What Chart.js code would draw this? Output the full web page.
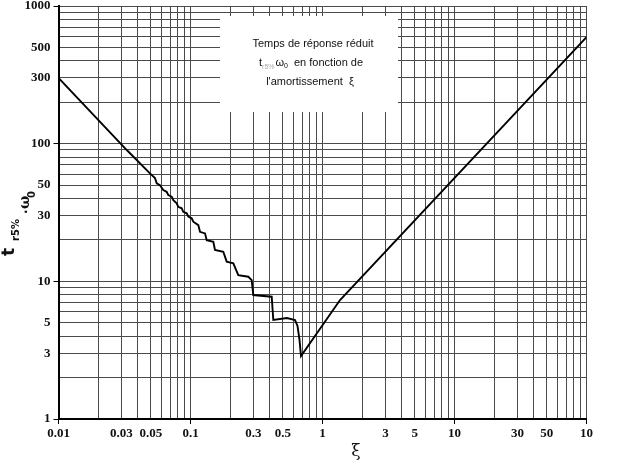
<!DOCTYPE html>
<html>
<head>
<meta charset="utf-8">
<script src="https://cdn.jsdelivr.net/npm/chart.js@4/dist/chart.umd.min.js"></script>
<style>
  html, body { margin: 0; padding: 0; background: #fff; }
</style>
</head>
<body>
<canvas id="chart" width="622" height="464"></canvas>
<script>
// damping ratio (xi) and reduced settling time t_r5% * w0
const xi = [0.01, 0.0329, 0.0493, 0.0538, 0.0555, 0.0587, 0.0622, 0.0660, 0.0679, 0.0720,
            0.0741, 0.0786, 0.0808, 0.0858, 0.0882, 0.0936, 0.0962, 0.1021, 0.1050, 0.1146,
            0.1180, 0.1288, 0.1327, 0.1489, 0.1533, 0.1772, 0.1880, 0.2110, 0.2302, 0.2741,
            0.2908, 0.2990, 0.4123, 0.4240, 0.5384, 0.6191, 0.6466, 0.6697, 0.6873, 1.358, 100];
const tw = [300, 89.9, 60.8, 56.3, 51.5, 50.0, 46.0, 44.7, 42.3, 41.2,
            38.9, 36.9, 34.8, 33.9, 32.0, 31.2, 29.5, 28.7, 27.1, 25.6,
            22.9, 22.3, 19.9, 19.4, 16.9, 16.4, 13.9, 13.5, 11.1, 10.8,
            10.2, 7.95, 7.73, 5.24, 5.41, 5.24, 4.74, 3.75, 2.87, 7.31, 594];

// labelled ticks
const xTickValues = [0.01, 0.03, 0.05, 0.1, 0.3, 0.5, 1, 3, 5, 10, 30, 50, 100];
const xTickText = ['0.01', '0.03', '0.05', '0.1', '0.3', '0.5', '1', '3', '5', '10', '30', '50', '10'];
const yTickValues = [1, 3, 5, 10, 30, 50, 100, 300, 500, 1000];
const yTickText = ['1', '3', '5', '10', '30', '50', '100', '300', '500', '1000'];

// grid lines at every 1..9 step of each decade
function logGrid(from, to) {
    const out = [];
    for (let d = from; d < to * 0.999; d *= 10) {
        for (let m = 1; m <= 9; m++) out.push(m * d);
    }
    out.push(to);
    return out;
}
const gridX = logGrid(0.01, 100);
const gridY = logGrid(1, 1000);

function same(a, b) { return Math.abs(a / b - 1) < 1e-6; }
function labelFor(v, vals, texts) {
    for (let i = 0; i < vals.length; i++) if (same(v, vals[i])) return texts[i];
    return '';
}
function isDecade(v) {
    const l = Math.log10(v);
    return Math.abs(l - Math.round(l)) < 1e-6;
}

const tickFont = { family: '"Liberation Serif", "DejaVu Serif", serif', size: 13, weight: 'bold' };

const notePlugin = {
    id: 'note',
    beforeDatasetsDraw(chart) {
        const c = chart.ctx;
        c.save();
        c.fillStyle = '#fff';
        c.fillRect(220, 16, 178, 96);
        c.fillStyle = '#111';
        c.textBaseline = 'alphabetic';
        c.textAlign = 'center';
        c.font = '11px "Liberation Sans", sans-serif';
        c.fillText('Temps de réponse réduit', 313, 47);
        c.fillText("l'amortissement  ξ", 310, 85);

        // second line with subscripts
        c.textAlign = 'left';
        let x = 259;
        const by = 66;
        c.font = '11px "Liberation Sans", sans-serif';
        c.fillText('t', x, by);
        x += c.measureText('t').width;
        c.font = '7px "Liberation Sans", sans-serif';
        c.fillStyle = '#aaa';
        c.fillText('r5%', x, by + 3);
        x += c.measureText('r5%').width + 1;
        c.fillStyle = '#111';
        c.font = '11px "Liberation Sans", sans-serif';
        c.fillText('ω', x, by);
        x += c.measureText('ω').width;
        c.font = '7px "Liberation Sans", sans-serif';
        c.fillText('0', x, by + 2);
        x += c.measureText('0').width + 6;
        c.font = '11px "Liberation Sans", sans-serif';
        c.fillText('en fonction de', x, by);
        c.restore();
    },
    afterDraw(chart) {
        const c = chart.ctx;
        c.save();
        c.fillStyle = '#111';
        c.textBaseline = 'alphabetic';
        c.textAlign = 'left';
        // rotated y-axis title
        const rot = (text, font, bx, y) => {
            c.save();
            c.translate(bx, y);
            c.rotate(-Math.PI / 2);
            c.font = font;
            c.fillText(text, 0, 0);
            c.restore();
        };
        rot('t', 'bold 17px "DejaVu Sans", sans-serif', 14, 256);
        rot('r5%', 'bold 10px "DejaVu Sans", sans-serif', 19, 241);
        rot('.', 'bold 12px "DejaVu Sans", sans-serif', 27, 214);
        rot('ω', 'bold 14px "DejaVu Serif", serif', 29, 209);
        rot('0', 'bold 10px "DejaVu Sans", sans-serif', 35, 198);
        // x-axis title
        c.textAlign = 'center';
        c.font = '17px "DejaVu Serif", serif';
        c.fillText('ξ', 356, 456);
        c.restore();
    }
};

const ctx = document.getElementById('chart').getContext('2d');
new Chart(ctx, {
    type: 'line',
    data: {
        datasets: [{
            data: xi.map((v, i) => ({ x: v, y: tw[i] })),
            borderColor: '#000',
            borderWidth: 1.9,
            pointRadius: 0,
            tension: 0,
            fill: false
        }]
    },
    options: {
        responsive: false,
        animation: false,
        devicePixelRatio: 1,
        layout: { padding: { top: 6, right: 35.5, left: 0, bottom: 0 } },
        plugins: { legend: { display: false }, tooltip: { enabled: false } },
        scales: {
            x: {
                type: 'logarithmic',
                min: 0.01,
                max: 100,
                afterBuildTicks: s => { s.ticks = gridX.map(v => ({ value: v })); },
                afterFit: s => { s.height = 45; s.paddingLeft = 0; s.paddingRight = 0; },
                ticks: {
                    autoSkip: false,
                    maxRotation: 0,
                    padding: 2,
                    color: '#111',
                    font: tickFont,
                    callback: v => labelFor(v, xTickValues, xTickText)
                },
                grid: {
                    color: '#4a4a4a',
                    lineWidth: 1,
                    tickLength: 5,
                    tickColor: c => (c.tick && isDecade(c.tick.value)) ? '#000' : 'rgba(0,0,0,0)'
                },
                border: { display: true, color: '#000', width: 2 }
            },
            y: {
                type: 'logarithmic',
                min: 1,
                max: 1000,
                afterBuildTicks: s => { s.ticks = gridY.map(v => ({ value: v })); },
                afterFit: s => { s.width = 58.5; s.paddingTop = 0; s.paddingBottom = 0; },
                ticks: {
                    autoSkip: false,
                    padding: 3,
                    color: '#111',
                    font: tickFont,
                    callback: v => labelFor(v, yTickValues, yTickText)
                },
                grid: {
                    color: '#4a4a4a',
                    lineWidth: 1,
                    tickLength: 5,
                    tickColor: c => (c.tick && isDecade(c.tick.value)) ? '#000' : 'rgba(0,0,0,0)'
                },
                border: { display: true, color: '#000', width: 2 }
            }
        }
    },
    plugins: [notePlugin]
});
</script>
</body>
</html>
